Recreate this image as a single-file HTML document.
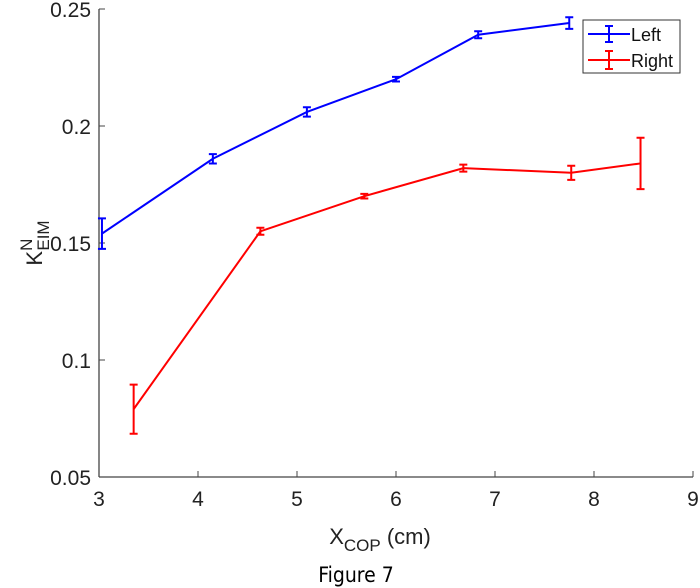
<!DOCTYPE html>
<html><head><meta charset="utf-8"><style>
body{margin:0;background:#fff;}
svg{display:block;font-family:"Liberation Sans",sans-serif;}
</style></head><body>
<svg id="chart" width="700" height="588">
<g id="axes"></g>
<g id="series"></g>
<text x="380" y="544" font-size="22" text-anchor="middle" fill="#222">X<tspan font-size="17" dy="7">COP</tspan><tspan dy="-7"> (cm)</tspan></text>
<g transform="translate(42,243) rotate(-90)">
<text x="0" y="0" font-size="22" text-anchor="middle" fill="#222">K<tspan font-size="17" dy="-10">N</tspan><tspan font-size="17" dx="-12" dy="17">EIM</tspan></text>
</g>
<text x="356" y="582" font-size="21" text-anchor="middle" fill="#000" font-family="'DejaVu Sans Condensed','Liberation Sans',sans-serif">Figure 7</text>
<g>
<rect x="583" y="20" width="97" height="53" fill="#fff" stroke="#333" stroke-width="1"/>
<line x1="588" y1="34" x2="630" y2="34" stroke="#00f" stroke-width="2"/>
<line x1="609" y1="26" x2="609" y2="42" stroke="#00f" stroke-width="2"/>
<line x1="605" y1="26" x2="613" y2="26" stroke="#00f" stroke-width="2"/>
<line x1="605" y1="42" x2="613" y2="42" stroke="#00f" stroke-width="2"/>
<text x="631" y="41" font-size="18" fill="#111">Left</text>
<line x1="588" y1="60" x2="630" y2="60" stroke="#f00" stroke-width="2"/>
<line x1="609" y1="51" x2="609" y2="69" stroke="#f00" stroke-width="2"/>
<line x1="605" y1="51" x2="613" y2="51" stroke="#f00" stroke-width="2"/>
<line x1="605" y1="69" x2="613" y2="69" stroke="#f00" stroke-width="2"/>
<text x="631" y="67" font-size="18" fill="#111">Right</text>
</g>
</svg>
<script>
const xTicks=[3,4,5,6,7,8,9];
const yTicks=[0.05,0.1,0.15,0.2,0.25];
const yTickLabels=["0.05","0.1","0.15","0.2","0.25"];
const leftX=[3.03,4.15,5.1,6.0,6.83,7.75];
const leftY=[0.154,0.186,0.206,0.220,0.239,0.244];
const leftErr=[0.0065,0.002,0.002,0.001,0.0015,0.0025];
const rightX=[3.35,4.63,5.68,6.68,7.77,8.47];
const rightY=[0.079,0.155,0.170,0.182,0.180,0.184];
const rightErr=[0.0105,0.0015,0.001,0.0015,0.003,0.011];
const NS="http://www.w3.org/2000/svg";
const X0=99,X1=693,Y0=477,Y1=9;
function sx(v){return X0+(v-3)/6*(X1-X0);}
function sy(v){return Y0-(v-0.05)/0.2*(Y0-Y1);}
function mk(t,a,p){const e=document.createElementNS(NS,t);for(const k in a)e.setAttribute(k,a[k]);p.appendChild(e);return e;}
const ax=document.getElementById('axes');
let l=mk('line',{x1:X0,y1:Y0,x2:X1,y2:Y0,stroke:'#444','stroke-width':1.3},ax);


l=mk('line',{x1:X0,y1:Y0,x2:X0,y2:Y1,stroke:'#444','stroke-width':1.3},ax);


xTicks.forEach(v=>{mk('line',{x1:sx(v),y1:Y0,x2:sx(v),y2:Y0-6,stroke:'#444'},ax);
const t=mk('text',{x:sx(v),y:Y0+29,'font-size':21,'text-anchor':'middle',fill:'#222'},ax);t.textContent=v;

});
yTicks.forEach((v,i)=>{mk('line',{x1:X0,y1:sy(v),x2:X0+6,y2:sy(v),stroke:'#444'},ax);
const t=mk('text',{x:X0-8,y:sy(v)+8,'font-size':21,'text-anchor':'end',fill:'#222'},ax);t.textContent=yTickLabels[i];

});
const sg=document.getElementById('series');
function draw(xs,ys,es,col,name){
const g=mk('g',{},sg);


const p=mk('polyline',{points:xs.map((x,i)=>sx(x)+','+sy(ys[i])).join(' '),fill:'none',stroke:col,'stroke-width':2},g);


xs.forEach((x,i)=>{const cx=sx(x),a=sy(ys[i]+es[i]),b=sy(ys[i]-es[i]);
const e=mk('path',{d:`M${cx},${a}V${b}M${cx-4},${a}H${cx+4}M${cx-4},${b}H${cx+4}`,stroke:col,'stroke-width':2,fill:'none'},g);

});
}
draw(leftX,leftY,leftErr,'#0000ff','series-left');
draw(rightX,rightY,rightErr,'#ff0000','series-right');
</script>
</body></html>
